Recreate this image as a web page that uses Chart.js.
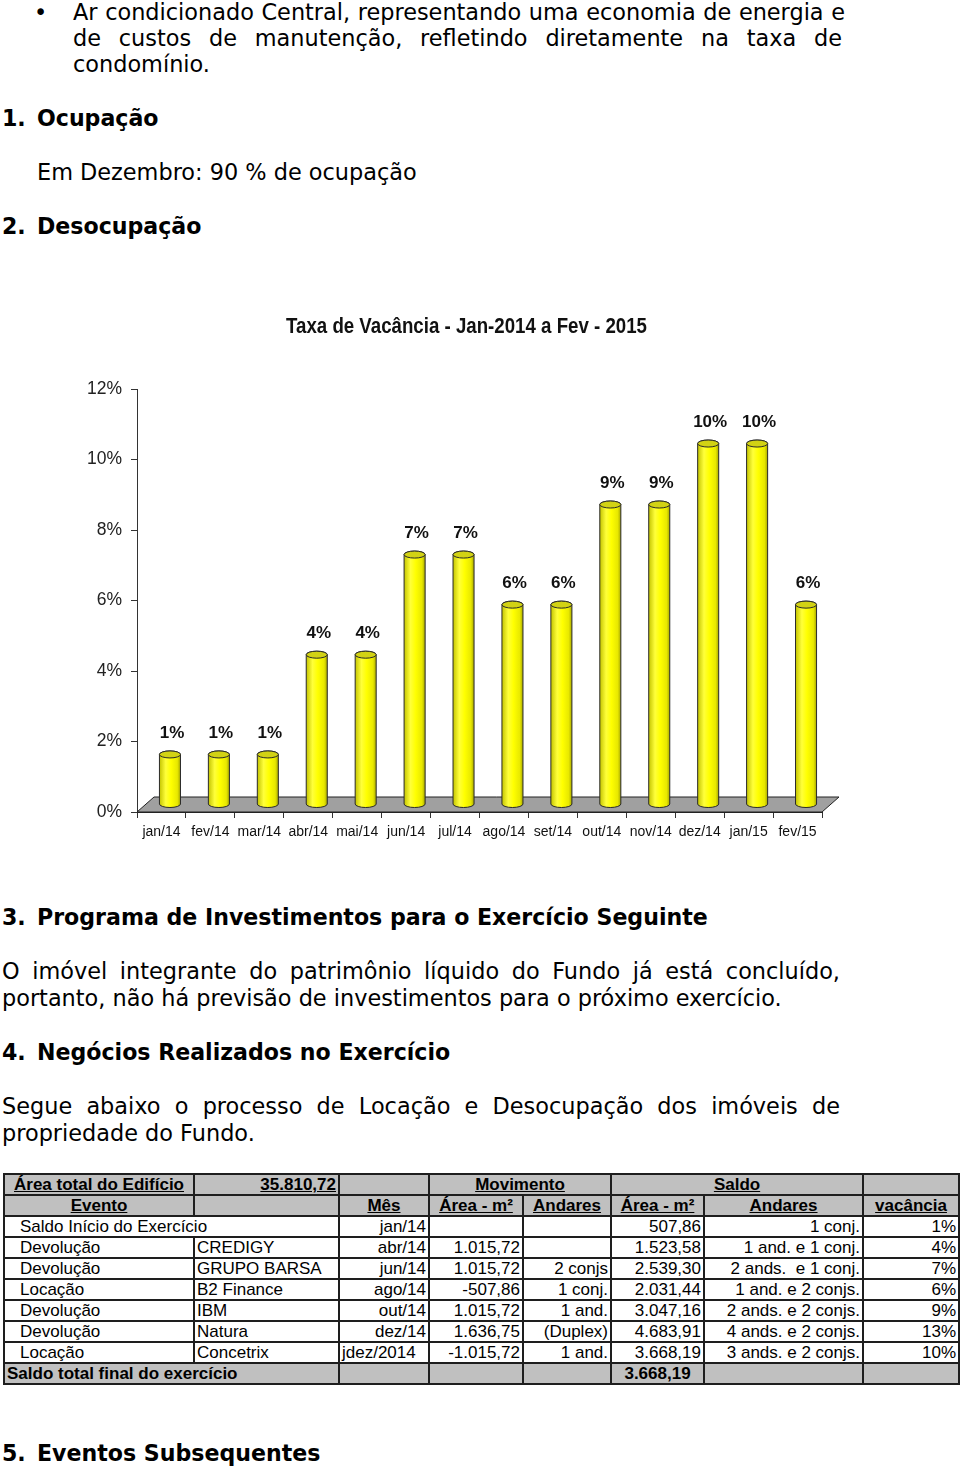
<!DOCTYPE html>
<html lang="pt-BR">
<head>
<meta charset="utf-8">
<title>Taxa de Vacância</title>
<script src="https://cdn.jsdelivr.net/npm/chart.js@4.4.1/dist/chart.umd.min.js"></script>
<style>
  html, body { margin: 0; padding: 0; background: #fff; }
  body { width: 960px; height: 1468px; position: relative; overflow: hidden;
         font-family: "DejaVu Sans", Verdana, sans-serif; font-size: 22.4px; color: #000; }
  .blk { position: absolute; line-height: 26.4px; white-space: nowrap; }
  .jl { position: absolute; line-height: 26.4px; text-align: justify; text-align-last: justify; }
  .h { font-weight: bold; font-size: 22.1px; }
  #chartBox { position: absolute; left: 0; top: 290px; width: 960px; height: 570px; }
  #tbl { position: absolute; left: 3px; top: 1173px; width: 955px; border-collapse: collapse; table-layout: fixed;
         font-family: "Liberation Sans", Arial, sans-serif; font-size: 17px; color: #000; }
  #tbl td { border: 2px solid #1e1e1e; padding: 0 2px; height: 19px; line-height: 19px;
            white-space: nowrap; overflow: hidden; }
  #tbl .g { background: #c0c0c0; }
  #tbl .b { font-weight: bold; }
  #tbl .u { text-decoration: underline; }
  #tbl .r { text-align: right; }
  #tbl .c { text-align: center; }
  #tbl .ind { padding-left: 15px; }
</style>
</head>
<body>

<div class="blk" style="top:-1px;left:34px">•</div>
<div class="jl" style="top:-1px;left:73px;width:772px">Ar condicionado Central, representando uma economia de energia e</div>
<div class="jl" style="top:25px;left:73px;width:769px">de custos de manutenção, refletindo diretamente na taxa de</div>
<div class="blk" style="top:51px;left:73px">condomínio.</div>

<div class="blk h" style="top:105px;left:2px">1.</div>
<div class="blk h" style="top:105px;left:37px">Ocupação</div>
<div class="blk" style="top:159px;left:37px">Em Dezembro: 90 % de ocupação</div>
<div class="blk h" style="top:213px;left:2px">2.</div>
<div class="blk h" style="top:213px;left:37px">Desocupação</div>

<div id="chartBox"><canvas id="vacancyChart" width="960" height="570"></canvas></div>

<div class="blk h" style="top:904px;left:2px">3.</div>
<div class="blk h" style="top:904px;left:37px">Programa de Investimentos para o Exercício Seguinte</div>
<div class="jl" style="top:958px;left:2px;width:838px">O imóvel integrante do patrimônio líquido do Fundo já está concluído,</div>
<div class="blk" style="top:985px;left:2px">portanto, não há previsão de investimentos para o próximo exercício.</div>

<div class="blk h" style="top:1039px;left:2px">4.</div>
<div class="blk h" style="top:1039px;left:37px">Negócios Realizados no Exercício</div>
<div class="jl" style="top:1093px;left:2px;width:838px">Segue abaixo o processo de Locação e Desocupação dos imóveis de</div>
<div class="blk" style="top:1120px;left:2px">propriedade do Fundo.</div>

<table id="tbl">
  <colgroup>
    <col style="width:190px"><col style="width:145px"><col style="width:90px"><col style="width:94px">
    <col style="width:88px"><col style="width:93px"><col style="width:159px"><col style="width:96px">
  </colgroup>
  <tr>
    <td class="g b u c">Área total do Edifício</td>
    <td class="g b r"><span class="u">35.810,72</span></td>
    <td class="g"></td>
    <td class="g b u c" colspan="2">Movimento</td>
    <td class="g b u c" colspan="2">Saldo</td>
    <td class="g"></td>
  </tr>
  <tr>
    <td class="g b u c">Evento</td>
    <td class="g"></td>
    <td class="g b u c">Mês</td>
    <td class="g b u c">Área - m²</td>
    <td class="g b u c">Andares</td>
    <td class="g b u c">Área - m²</td>
    <td class="g b u c">Andares</td>
    <td class="g b u c">vacância</td>
  </tr>
  <tr>
    <td class="ind" colspan="2">Saldo Início do Exercício</td>
    <td class="r">jan/14</td><td></td><td></td>
    <td class="r">507,86</td><td class="r">1 conj.</td><td class="r">1%</td>
  </tr>
  <tr>
    <td class="ind">Devolução</td><td>CREDIGY</td>
    <td class="r">abr/14</td><td class="r">1.015,72</td><td></td>
    <td class="r">1.523,58</td><td class="r">1 and. e 1 conj.</td><td class="r">4%</td>
  </tr>
  <tr>
    <td class="ind">Devolução</td><td>GRUPO BARSA</td>
    <td class="r">jun/14</td><td class="r">1.015,72</td><td class="r">2 conjs</td>
    <td class="r">2.539,30</td><td class="r">2 ands.&nbsp; e 1 conj.</td><td class="r">7%</td>
  </tr>
  <tr>
    <td class="ind">Locação</td><td>B2 Finance</td>
    <td class="r">ago/14</td><td class="r">-507,86</td><td class="r">1 conj.</td>
    <td class="r">2.031,44</td><td class="r">1 and. e 2 conjs.</td><td class="r">6%</td>
  </tr>
  <tr>
    <td class="ind">Devolução</td><td>IBM</td>
    <td class="r">out/14</td><td class="r">1.015,72</td><td class="r">1 and.</td>
    <td class="r">3.047,16</td><td class="r">2 ands. e 2 conjs.</td><td class="r">9%</td>
  </tr>
  <tr>
    <td class="ind">Devolução</td><td>Natura</td>
    <td class="r">dez/14</td><td class="r">1.636,75</td><td class="r">(Duplex)</td>
    <td class="r">4.683,91</td><td class="r">4 ands. e 2 conjs.</td><td class="r">13%</td>
  </tr>
  <tr>
    <td class="ind">Locação</td><td>Concetrix</td>
    <td>jdez/2014</td><td class="r">-1.015,72</td><td class="r">1 and.</td>
    <td class="r">3.668,19</td><td class="r">3 ands. e 2 conjs.</td><td class="r">10%</td>
  </tr>
  <tr>
    <td class="g b" colspan="2">Saldo total final do exercício</td>
    <td class="g"></td><td class="g"></td><td class="g"></td>
    <td class="g b c">3.668,19</td><td class="g"></td><td class="g"></td>
  </tr>
</table>

<div class="blk h" style="top:1440px;left:2px">5.</div>
<div class="blk h" style="top:1440px;left:37px">Eventos Subsequentes</div>

<script>
// Chart data
const chartTitle = 'Taxa de Vacância - Jan-2014 a Fev - 2015';
const months = ['jan/14', 'fev/14', 'mar/14', 'abr/14', 'mai/14', 'jun/14', 'jul/14',
                'ago/14', 'set/14', 'out/14', 'nov/14', 'dez/14', 'jan/15', 'fev/15'];
const vacancy = [1.42, 1.42, 1.42, 4.25, 4.25, 7.09, 7.09, 5.67, 5.67, 8.51, 8.51, 10.24, 10.24, 5.67];
const valueLabels = ['1%', '1%', '1%', '4%', '4%', '7%', '7%', '6%', '6%', '9%', '9%', '10%', '10%', '6%'];
const yMax = 12;
const yStep = 2;

const SANS = '"Liberation Sans", Arial, sans-serif';

// depth of the fake 3D floor
const DEPTH_X = 17;
const DEPTH_Y = 15;

const cylinders = {
  id: 'cylinders',
  beforeDatasetsDraw(chart) {
    const { ctx, chartArea: a, scales } = chart;
    const y0 = scales.y.getPixelForValue(0);
    ctx.save();
    ctx.beginPath();
    ctx.moveTo(a.left, y0);
    ctx.lineTo(a.right, y0);
    ctx.lineTo(a.right + DEPTH_X, y0 - DEPTH_Y);
    ctx.lineTo(a.left + DEPTH_X, y0 - DEPTH_Y);
    ctx.closePath();
    ctx.fillStyle = '#a0a0a0';
    ctx.fill();
    ctx.lineWidth = 1;
    ctx.strokeStyle = '#222';
    ctx.stroke();
    ctx.restore();
  },
  afterDatasetsDraw(chart) {
    const { ctx } = chart;
    const meta = chart.getDatasetMeta(0);
    ctx.save();
    meta.data.forEach((bar, i) => {
      const p = bar.getProps(['x', 'y', 'base', 'width'], true);
      const cx = p.x + DEPTH_X / 2;
      const top = p.y - DEPTH_Y / 2;
      const base = p.base - DEPTH_Y / 2;
      const r = p.width / 2;
      const ry = 3.5;

      const grad = ctx.createLinearGradient(cx - r, 0, cx + r, 0);
      grad.addColorStop(0, '#c4c400');
      grad.addColorStop(0.3, '#ffff3a');
      grad.addColorStop(0.55, '#ffff00');
      grad.addColorStop(0.85, '#e8e800');
      grad.addColorStop(1, '#a8a800');

      ctx.beginPath();
      ctx.moveTo(cx - r, top);
      ctx.lineTo(cx - r, base);
      ctx.ellipse(cx, base, r, ry, 0, Math.PI, 0, true);
      ctx.lineTo(cx + r, top);
      ctx.ellipse(cx, top, r, ry, 0, 0, Math.PI, true);
      ctx.closePath();
      ctx.fillStyle = grad;
      ctx.fill();
      ctx.lineWidth = 1;
      ctx.strokeStyle = '#2a2a2a';
      ctx.stroke();

      ctx.beginPath();
      ctx.ellipse(cx, top, r, ry, 0, 0, Math.PI * 2);
      ctx.fillStyle = '#d2d214';
      ctx.fill();
      ctx.stroke();

      ctx.fillStyle = '#111';
      ctx.font = 'bold 17px ' + SANS;
      ctx.textAlign = 'center';
      ctx.textBaseline = 'middle';
      ctx.fillText(valueLabels[i], cx + 2, top - 21);
    });
    ctx.restore();
  },
  afterDraw(chart) {
    // title, condensed like the original narrow font
    const { ctx, chartArea: a } = chart;
    ctx.save();
    ctx.font = 'bold 22px ' + SANS;
    ctx.fillStyle = '#111';
    ctx.textAlign = 'center';
    ctx.textBaseline = 'middle';
    const w = ctx.measureText(chartTitle).width;
    const sx = Math.min(1, 361 / w);
    ctx.translate((a.left + a.right) / 2 - 13, 37);
    ctx.scale(sx, 1);
    ctx.fillText(chartTitle, 0, 0);
    ctx.restore();
  }
};

const ctx = document.getElementById('vacancyChart').getContext('2d');
new Chart(ctx, {
  type: 'bar',
  data: {
    labels: months,
    datasets: [{
      label: 'Vacância',
      data: vacancy,
      backgroundColor: 'rgba(0,0,0,0)',
      borderWidth: 0,
      barPercentage: 0.43,
      categoryPercentage: 1
    }]
  },
  options: {
    responsive: false,
    animation: false,
    layout: { padding: { left: 0, right: 138, top: 99, bottom: 0 } },
    plugins: {
      legend: { display: false },
      tooltip: { enabled: false },
      title: { display: false }
    },
    scales: {
      x: {
        grid: { offset: true, drawOnChartArea: false, tickLength: 6, color: '#333' },
        border: { display: true, color: '#222' },
        ticks: { color: '#111', font: { family: SANS, size: 14 }, padding: 6, maxRotation: 0, autoSkip: false },
        afterFit: s => { s.height = 48; }
      },
      y: {
        min: 0,
        max: yMax,
        ticks: { stepSize: yStep, color: '#222', font: { family: SANS, size: 17.5 }, padding: 9,
                 callback: v => v + '%' },
        grid: { drawOnChartArea: false, tickLength: 6, color: '#333' },
        border: { display: true, color: '#333', dash: [3, 2] },
        afterFit: s => { s.width = 137; }
      }
    }
  },
  plugins: [cylinders]
});
</script>
</body>
</html>
